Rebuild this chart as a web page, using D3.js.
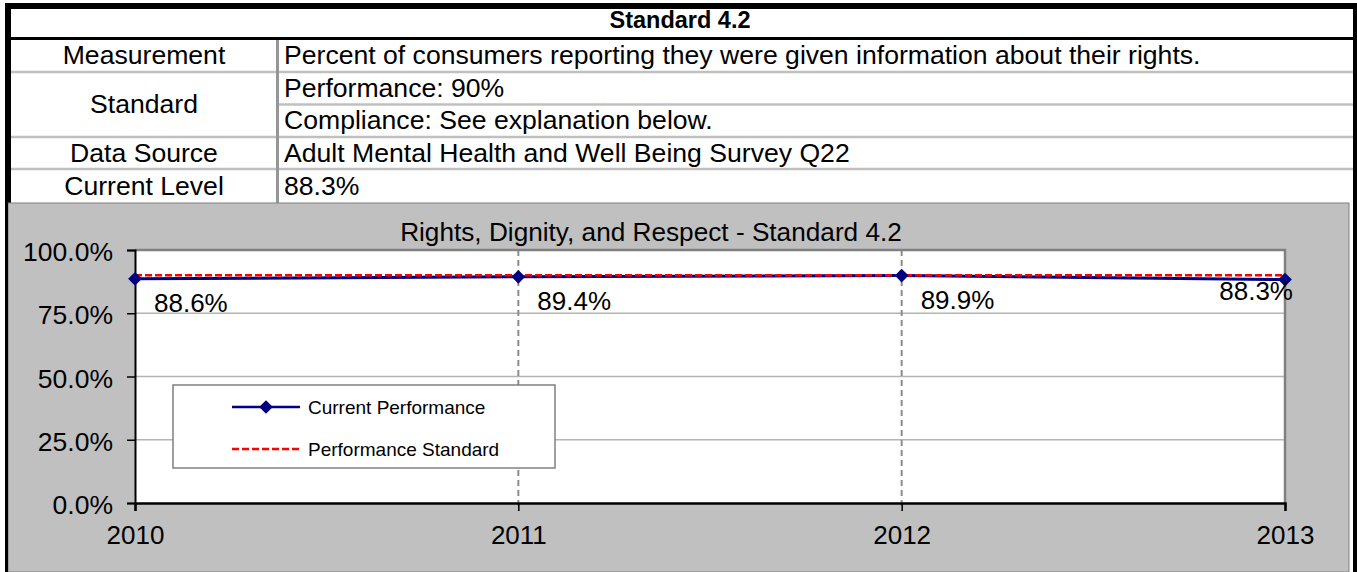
<!DOCTYPE html>
<html>
<head>
<meta charset="utf-8">
<script src="https://cdn.jsdelivr.net/npm/d3@7"></script>
<style>
  html, body { margin: 0; padding: 0; background: #fff; }
  svg { display: block; font-family: "Liberation Sans", Arial, sans-serif; }
</style>
</head>
<body>
<svg id="chart" width="1357" height="572"></svg>
<script>
// ---- data ----
const years = [2010, 2011, 2012, 2013];
const currentPerformance = [88.6, 89.4, 89.9, 88.3];
const performanceStandard = [90, 90, 90, 90];
const yTickValues = [0, 25, 50, 75, 100];
const seriesNames = ["Current Performance", "Performance Standard"];
const chartTitle = "Rights, Dignity, and Respect - Standard 4.2";
const tableHeader = "Standard 4.2";
const tableLabels = ["Measurement", "Standard", "Data Source", "Current Level"];
const tableValues = [
  "Percent of consumers reporting they were given information about their rights.",
  "Performance: 90%",
  "Compliance: See explanation below.",
  "Adult Mental Health and Well Being Survey Q22",
  "88.3%"
];

const svg = d3.select("#chart");

// ---- table ----
svg.append("rect").attr("x", 8).attr("y", 6).attr("width", 1346).attr("height", 197).attr("fill", "#fff");
[72, 137, 169].forEach(y => svg.append("line").attr("x1", 10).attr("x2", 1354).attr("y1", y).attr("y2", y)
  .attr("stroke", "#c0c0c0").attr("stroke-width", 2.5));
svg.append("line").attr("x1", 278).attr("x2", 1354).attr("y1", 104.5).attr("y2", 104.5)
  .attr("stroke", "#c0c0c0").attr("stroke-width", 2.5);
svg.append("line").attr("x1", 277.5).attr("x2", 277.5).attr("y1", 39).attr("y2", 203)
  .attr("stroke", "#969696").attr("stroke-width", 3);
svg.append("rect").attr("x", 5).attr("y", 37).attr("width", 1352).attr("height", 3).attr("fill", "#000");
svg.append("rect").attr("x", 5).attr("y", 3).attr("width", 1352).attr("height", 6).attr("fill", "#000");
svg.append("rect").attr("x", 5).attr("y", 3).attr("width", 6).attr("height", 200).attr("fill", "#000");
svg.append("rect").attr("x", 1353).attr("y", 3).attr("width", 4).attr("height", 569).attr("fill", "#000");

svg.append("text").attr("x", 680).attr("y", 20).attr("text-anchor", "middle").attr("dominant-baseline", "central")
  .attr("font-weight", "bold").attr("font-size", 23.5).text(tableHeader);

const labelY = [55, 104, 153, 186];
tableLabels.forEach((t, i) => svg.append("text").attr("x", 144).attr("y", labelY[i])
  .attr("text-anchor", "middle").attr("dominant-baseline", "central").attr("font-size", 26.6).text(t));
const valueY = [55, 88, 120, 153, 186];
tableValues.forEach((t, i) => svg.append("text").attr("x", 284).attr("y", valueY[i])
  .attr("dominant-baseline", "central").attr("font-size", 26.6).text(t));

// ---- chart area ----
svg.append("rect").attr("x", 8).attr("y", 203).attr("width", 1341).attr("height", 369)
  .attr("fill", "#c0c0c0").attr("stroke", "#808080").attr("stroke-width", 1);
svg.append("rect").attr("x", 5).attr("y", 203).attr("width", 3).attr("height", 369).attr("fill", "#000");
svg.append("rect").attr("x", 1350).attr("y", 203).attr("width", 3).attr("height", 369).attr("fill", "#fff");

const x = d3.scaleLinear().domain([years[0], years[years.length - 1]]).range([135, 1285]);
const y = d3.scaleLinear().domain([0, 100]).range([503, 250]);

svg.append("rect").attr("x", x.range()[0]).attr("y", y(100)).attr("width", x.range()[1] - x.range()[0])
  .attr("height", y(0) - y(100)).attr("fill", "#fff");

svg.append("g").selectAll("line").data(yTickValues.filter(v => v > 0 && v < 100)).join("line")
  .attr("x1", x.range()[0]).attr("x2", x.range()[1]).attr("y1", d => y(d)).attr("y2", d => y(d))
  .attr("stroke", "#b4b4b4").attr("stroke-width", 1.5);
svg.append("g").selectAll("line").data(years.slice(1, -1)).join("line")
  .attr("x1", d => x(d)).attr("x2", d => x(d)).attr("y1", y(100)).attr("y2", y(0) + 8)
  .attr("stroke", "#8c8c8c").attr("stroke-width", 2).attr("stroke-dasharray", "6,4");

svg.append("path").attr("d", `M${x.range()[0]},${y(100)}H${x.range()[1]}V${y(0)}`)
  .attr("fill", "none").attr("stroke", "#808080").attr("stroke-width", 2.5);

const yAxis = d3.axisLeft(y).tickValues(yTickValues).tickSize(8).tickPadding(14)
  .tickFormat(d => d3.format(".1f")(d) + "%");
const gy = svg.append("g").attr("transform", `translate(${x.range()[0]},0)`).call(yAxis);
gy.select(".domain").attr("stroke", "#000").attr("stroke-width", 2);
gy.selectAll(".tick line").attr("stroke", "#000").attr("stroke-width", 1.5);
gy.selectAll(".tick text").attr("font-size", 26.5).attr("fill", "#000").attr("font-family", "Liberation Sans, Arial, sans-serif")
  .attr("dy", "0.4em");

const xAxis = d3.axisBottom(x).tickValues(years).tickSize(8).tickPadding(15).tickFormat(d3.format("d"));
const gx = svg.append("g").attr("transform", `translate(0,${y(0)})`).call(xAxis);
gx.select(".domain").attr("stroke", "#000").attr("stroke-width", 2.5);
gx.selectAll(".tick line").attr("stroke", "#000").attr("stroke-width", 1.5);
gx.selectAll(".tick text").attr("font-size", 26).attr("fill", "#000").attr("font-family", "Liberation Sans, Arial, sans-serif");

svg.append("text").attr("x", 651).attr("y", 232).attr("text-anchor", "middle").attr("dominant-baseline", "central")
  .attr("font-size", 26.2).text(chartTitle);

const perfData = years.map((yr, i) => ({ yr, v: currentPerformance[i] }));
const stdData = years.map((yr, i) => ({ yr, v: performanceStandard[i] }));
const line = d3.line().x(d => x(d.yr)).y(d => y(d.v));

svg.append("path").datum(perfData).attr("d", line).attr("fill", "none")
  .attr("stroke", "#000080").attr("stroke-width", 3);
svg.append("path").datum(stdData).attr("d", line).attr("fill", "none")
  .attr("stroke", "#ff0000").attr("stroke-width", 2.5).attr("stroke-dasharray", "7,3");

const diamond = d3.symbol().type(d3.symbolDiamond2).size(120);
svg.append("g").selectAll("path").data(perfData).join("path")
  .attr("transform", d => `translate(${x(d.yr)},${y(d.v)})`).attr("d", diamond).attr("fill", "#000080");

svg.append("g").selectAll("text").data(perfData).join("text")
  .attr("x", (d, i) => i === perfData.length - 1 ? x(d.yr) + 8 : x(d.yr) + 19)
  .attr("y", (d, i) => i === perfData.length - 1 ? y(d.v) + 11 : y(d.v) + 24)
  .attr("text-anchor", (d, i) => i === perfData.length - 1 ? "end" : "start")
  .attr("dominant-baseline", "central").attr("font-size", 26)
  .text(d => d3.format(".1f")(d.v) + "%");

const lg = svg.append("g");
lg.append("rect").attr("x", 173).attr("y", 385).attr("width", 382).attr("height", 83)
  .attr("fill", "#fff").attr("stroke", "#808080").attr("stroke-width", 1.5);
const legendY = [407, 449];
lg.append("line").attr("x1", 232).attr("x2", 300).attr("y1", legendY[0]).attr("y2", legendY[0])
  .attr("stroke", "#000080").attr("stroke-width", 2.5);
lg.append("path").attr("transform", `translate(266,${legendY[0]})`).attr("d", diamond).attr("fill", "#000080");
lg.append("line").attr("x1", 232).attr("x2", 300).attr("y1", legendY[1]).attr("y2", legendY[1])
  .attr("stroke", "#ff0000").attr("stroke-width", 2.5).attr("stroke-dasharray", "7,3");
seriesNames.forEach((n, i) => lg.append("text").attr("x", 308).attr("y", legendY[i])
  .attr("dominant-baseline", "central").attr("font-size", 19).text(n));
</script>
</body>
</html>
